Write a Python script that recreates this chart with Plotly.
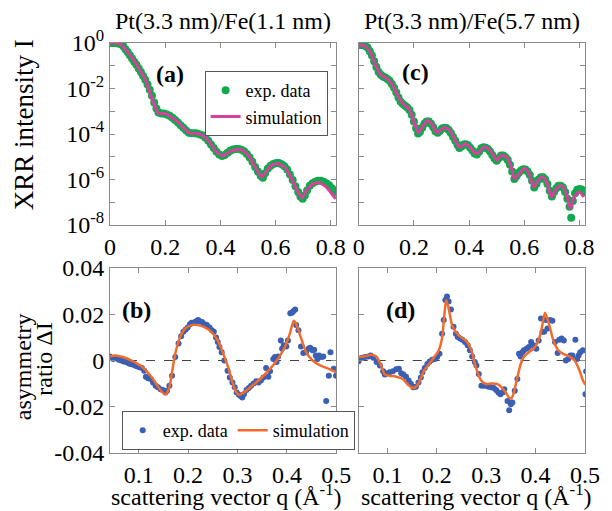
import plotly.graph_objects as go

# ---------------- data ----------------
# (a) Pt(3.3 nm)/Fe(1.1 nm) XRR, log10 intensity
a_sim_q = [0, 0.035, 0.058, 0.082, 0.105, 0.129, 0.146, 0.164, 0.175, 0.199, 0.222, 0.246, 0.269, 0.287,
           0.316, 0.339, 0.363, 0.386, 0.409, 0.433, 0.456, 0.480, 0.503, 0.526, 0.550, 0.561, 0.585, 0.608,
           0.632, 0.655, 0.678, 0.696, 0.713, 0.737, 0.760, 0.784, 0.805, 0.818]
a_sim_log = [0, -0.03, -0.32, -0.69, -1.13, -1.64, -2.23, -2.81, -3.08, -3.10, -3.25, -3.47, -3.76, -3.95,
             -3.98, -4.09, -4.39, -4.78, -4.96, -4.78, -4.68, -4.71, -4.98, -5.45, -5.89, -5.74, -5.38, -5.30,
             -5.45, -5.89, -6.47, -6.80, -6.47, -6.18, -6.15, -6.33, -6.65, -6.85]
a_exp_q = [0.000, 0.010, 0.020, 0.030, 0.040, 0.048, 0.056, 0.064, 0.072, 0.080, 0.088, 0.096, 0.104, 0.112,
           0.120, 0.128, 0.136, 0.144, 0.152, 0.160, 0.168, 0.176, 0.186, 0.196, 0.206, 0.216, 0.226, 0.236,
           0.246, 0.256, 0.266, 0.276, 0.286, 0.296, 0.306, 0.316, 0.326, 0.336, 0.346, 0.356, 0.366, 0.376,
           0.386, 0.396, 0.406, 0.416, 0.426, 0.436, 0.446, 0.456, 0.466, 0.476, 0.486, 0.496, 0.506, 0.516,
           0.526, 0.536, 0.546, 0.554, 0.562, 0.572, 0.582, 0.592, 0.602, 0.612, 0.622, 0.632, 0.642, 0.652,
           0.662, 0.672, 0.682, 0.690, 0.698, 0.706, 0.714, 0.724, 0.734, 0.744, 0.754, 0.764, 0.774, 0.784,
           0.794, 0.804, 0.814, 0.820]
a_exp_log = [0.00, 0.00, -0.01, -0.02, -0.06, -0.14, -0.27, -0.40, -0.54, -0.68, -0.82, -0.96, -1.12, -1.28,
             -1.45, -1.62, -1.82, -2.05, -2.32, -2.62, -2.88, -3.05, -3.10, -3.10, -3.14, -3.20, -3.29, -3.38,
             -3.50, -3.62, -3.73, -3.85, -3.94, -3.97, -3.97, -3.98, -4.02, -4.07, -4.17, -4.30, -4.46, -4.62,
             -4.78, -4.90, -4.97, -4.92, -4.82, -4.74, -4.68, -4.66, -4.66, -4.69, -4.76, -4.88, -5.03, -5.22,
             -5.45, -5.65, -5.84, -5.92, -5.72, -5.52, -5.40, -5.32, -5.28, -5.28, -5.33, -5.42, -5.56, -5.78,
             -6.02, -6.30, -6.55, -6.75, -6.85, -6.70, -6.48, -6.28, -6.16, -6.10, -6.06, -6.06, -6.10, -6.16,
             -6.25, -6.38, -6.50, -6.55]

# (c) Pt(3.3 nm)/Fe(5.7 nm) XRR, log10 intensity
c_sim_q = [0, 0.025, 0.043, 0.060, 0.078, 0.096, 0.113, 0.131, 0.148, 0.166, 0.183, 0.201, 0.216, 0.230,
           0.248, 0.265, 0.283, 0.295, 0.312, 0.330, 0.347, 0.365, 0.377, 0.388, 0.406, 0.424, 0.435, 0.453,
           0.470, 0.488, 0.500, 0.517, 0.535, 0.553, 0.564, 0.582, 0.600, 0.617, 0.634, 0.646, 0.664, 0.681,
           0.699, 0.716, 0.734, 0.752, 0.767, 0.781, 0.799, 0.816]
c_sim_log = [-0.10, -0.14, -0.43, -0.94, -1.37, -1.52, -1.67, -2.03, -2.47, -2.73, -2.91, -3.49, -3.93, -3.71,
             -3.42, -3.56, -3.93, -3.85, -3.71, -3.85, -4.22, -4.58, -4.51, -4.43, -4.62, -4.87, -4.80, -4.58,
             -4.65, -4.94, -5.16, -4.94, -5.01, -5.45, -5.96, -5.74, -5.52, -5.74, -6.33, -6.11, -5.89, -6.11,
             -6.77, -6.40, -6.26, -6.62, -7.28, -6.77, -6.55, -6.77]
c_exp_q = [0.000, 0.008, 0.016, 0.024, 0.032, 0.040, 0.048, 0.056, 0.064, 0.072, 0.080, 0.088, 0.096, 0.104,
           0.112, 0.120, 0.128, 0.136, 0.144, 0.152, 0.160, 0.168, 0.176, 0.184, 0.192, 0.200, 0.208, 0.215,
           0.222, 0.230, 0.238, 0.246, 0.254, 0.262, 0.270, 0.278, 0.286, 0.294, 0.302, 0.310, 0.318, 0.326,
           0.334, 0.342, 0.350, 0.358, 0.365, 0.372, 0.380, 0.388, 0.396, 0.404, 0.412, 0.420, 0.428, 0.436,
           0.444, 0.452, 0.460, 0.468, 0.476, 0.484, 0.492, 0.500, 0.508, 0.516, 0.524, 0.532, 0.540, 0.548,
           0.556, 0.564, 0.572, 0.580, 0.588, 0.596, 0.604, 0.612, 0.620, 0.628, 0.636, 0.644, 0.652, 0.660,
           0.668, 0.676, 0.684, 0.692, 0.700, 0.708, 0.716, 0.724, 0.732, 0.740, 0.748, 0.756, 0.764, 0.770,
           0.776, 0.784, 0.792, 0.800, 0.808, 0.816]
c_exp_log = [-0.08, -0.09, -0.10, -0.13, -0.20, -0.36, -0.55, -0.80, -1.05, -1.27, -1.40, -1.47, -1.52, -1.58,
             -1.66, -1.80, -1.97, -2.18, -2.40, -2.58, -2.68, -2.76, -2.84, -2.95, -3.15, -3.45, -3.75, -3.98,
             -3.90, -3.72, -3.55, -3.45, -3.45, -3.55, -3.70, -3.88, -3.95, -3.87, -3.76, -3.72, -3.74, -3.82,
             -3.96, -4.13, -4.30, -4.48, -4.62, -4.55, -4.46, -4.45, -4.50, -4.60, -4.73, -4.86, -4.90, -4.78,
             -4.63, -4.58, -4.60, -4.66, -4.77, -4.92, -5.08, -5.18, -5.05, -4.95, -4.95, -5.02, -5.14, -5.35,
             -5.65, -5.98, -5.85, -5.70, -5.60, -5.55, -5.56, -5.65, -5.80, -6.05, -6.35, -6.20, -6.00, -5.90,
             -5.90, -6.00, -6.20, -6.50, -6.75, -6.55, -6.38, -6.28, -6.28, -6.35, -6.55, -6.85, -7.20, -7.68,
             -6.95, -6.60, -6.45, -6.42, -6.44, -6.55]

# (b) asymmetry ratio, Fe 1.1 nm
b_sim_q = [0.042, 0.052, 0.068, 0.088, 0.108, 0.124, 0.138, 0.148, 0.154, 0.161, 0.167, 0.174, 0.184, 0.194,
           0.207, 0.220, 0.234, 0.247, 0.260, 0.270, 0.280, 0.290, 0.296, 0.303, 0.313, 0.326, 0.346, 0.366,
           0.382, 0.396, 0.406, 0.414, 0.419, 0.429, 0.439, 0.452, 0.468, 0.485, 0.500]
b_sim_v = [0.0017, 0.0022, 0.0015, -0.0003, -0.0029, -0.0066, -0.0109, -0.0138, -0.0146, -0.0124, -0.0058,
           0.0029, 0.0102, 0.0138, 0.0153, 0.0153, 0.0143, 0.0124, 0.0087, 0.0036, -0.0022, -0.0095, -0.0131,
           -0.0148, -0.0138, -0.0116, -0.0080, -0.0036, 0.0007, 0.0058, 0.0116, 0.0172, 0.0157, 0.0095, 0.0036,
           0.0, -0.0022, -0.0036, -0.0051]
b_exp_q = [0.0418, 0.0484, 0.0550, 0.0597, 0.0649, 0.0696, 0.0749, 0.0795, 0.0835, 0.0881, 0.0927, 0.0967,
           0.1013, 0.1066, 0.1112, 0.1146, 0.1192, 0.1245, 0.1291, 0.1344, 0.1390, 0.1443, 0.1489, 0.1542,
           0.1575, 0.1622, 0.1675, 0.1741, 0.1807, 0.1860, 0.1906, 0.1952, 0.1992, 0.2038, 0.2071, 0.2138,
           0.2184, 0.2204, 0.2237, 0.2283, 0.2336, 0.2382, 0.2435, 0.2481, 0.2521, 0.2567, 0.2601, 0.2634,
           0.2680, 0.2733, 0.2799, 0.2845, 0.2898, 0.2944, 0.2984, 0.3030, 0.3063, 0.3097, 0.3130, 0.3183,
           0.3229, 0.3275, 0.3328, 0.3381, 0.3427, 0.3474, 0.3526, 0.3579, 0.3626, 0.3659, 0.3725, 0.3758,
           0.3791, 0.3824, 0.3877, 0.3903, 0.3937, 0.3989, 0.4022, 0.4069, 0.4102, 0.4135, 0.4168, 0.4188,
           0.4234, 0.4287, 0.4333, 0.4386, 0.4439, 0.4472, 0.4519, 0.4552, 0.4585, 0.4618, 0.4651, 0.4704,
           0.4737, 0.4796, 0.4849, 0.4882, 0.4948, 0.4995]
b_exp_v = [0.0017, 0.0007, 0.0012, 0.0003, 0.0, -0.0004, -0.0007, -0.0012, -0.0015, -0.0017, -0.0022, -0.0025,
           -0.0029, -0.0032, -0.0044, -0.0070, -0.0077, -0.0080, -0.0095, -0.0109, -0.0116, -0.0124, -0.0128,
           -0.0138, -0.0131, -0.0109, -0.0066, 0.0015, 0.0073, 0.0105, 0.0124, 0.0134, 0.0143, 0.0157, 0.0163,
           0.0167, 0.0172, 0.0175, 0.0170, 0.0167, 0.0157, 0.0153, 0.0143, 0.0131, 0.0124, 0.0099, 0.0080,
           0.0058, 0.0036, 0.0, -0.0044, -0.0073, -0.0095, -0.0116, -0.0138, -0.0148, -0.0153, -0.0160, -0.0146,
           -0.0128, -0.0119, -0.0109, -0.0099, -0.0090, -0.0095, -0.0087, -0.0073, -0.0032, -0.0070, -0.0047,
           0.0007, 0.0015, -0.0007, 0.0017, 0.0087, 0.0051, 0.0066, 0.0061, 0.0087, 0.0204, 0.0207, 0.0214,
           0.0221, 0.0153, 0.0131, 0.0061, 0.0032, 0.0036, 0.0051, 0.0055, 0.0044, 0.0047, 0.0022, 0.0007,
           0.0022, 0.0015, 0.0017, -0.0175, -0.0066, 0.0036, -0.0036, -0.0066]

# (d) asymmetry ratio, Fe 5.7 nm
d_sim_q = [0.042, 0.052, 0.068, 0.078, 0.086, 0.095, 0.105, 0.118, 0.131, 0.144, 0.154, 0.164, 0.174, 0.184,
           0.194, 0.204, 0.211, 0.215, 0.219, 0.224, 0.231, 0.241, 0.250, 0.260, 0.270, 0.280, 0.290, 0.300,
           0.310, 0.323, 0.337, 0.346, 0.351, 0.356, 0.363, 0.370, 0.376, 0.386, 0.396, 0.406, 0.413, 0.419,
           0.426, 0.436, 0.446, 0.456, 0.469, 0.479, 0.489, 0.496, 0.501]
d_sim_v = [0.0015, 0.0017, 0.0025, 0.0017, -0.0015, -0.0061, -0.0066, -0.0070, -0.0080, -0.0109, -0.0119,
           -0.0095, -0.0044, -0.0015, 0.0012, 0.0044, 0.0102, 0.0189, 0.0262, 0.0226, 0.0153, 0.0116, 0.0099,
           0.0084, 0.0044, -0.0036, -0.0087, -0.0102, -0.0099, -0.0102, -0.0131, -0.0160, -0.0164, -0.0138,
           -0.0073, -0.0015, 0.0015, 0.0036, 0.0051, 0.0087, 0.0146, 0.0207, 0.0167, 0.0087, 0.0044, 0.0029,
           0.0017, 0.0, -0.0044, -0.0087, -0.0105]
d_exp_q = [0.0417, 0.0484, 0.0550, 0.0616, 0.0663, 0.0716, 0.0782, 0.0849, 0.0915, 0.0948, 0.1001, 0.1047,
           0.1113, 0.1180, 0.1233, 0.1279, 0.1325, 0.1378, 0.1431, 0.1478, 0.1524, 0.1577, 0.1630, 0.1677,
           0.1710, 0.1756, 0.1809, 0.1856, 0.1909, 0.1962, 0.2008, 0.2054, 0.2107, 0.2140, 0.2174, 0.2207,
           0.2240, 0.2286, 0.2339, 0.2386, 0.2425, 0.2472, 0.2518, 0.2571, 0.2624, 0.2671, 0.2717, 0.2770,
           0.2803, 0.2850, 0.2903, 0.2956, 0.3003, 0.3049, 0.3101, 0.3154, 0.3201, 0.3247, 0.3287, 0.3333,
           0.3366, 0.3432, 0.3465, 0.3498, 0.3531, 0.3578, 0.3631, 0.3664, 0.3697, 0.3730, 0.3763, 0.3816,
           0.3863, 0.3909, 0.3962, 0.4015, 0.4062, 0.4108, 0.4141, 0.4174, 0.4207, 0.4241, 0.4294, 0.4340,
           0.4393, 0.4446, 0.4479, 0.4526, 0.4572, 0.4612, 0.4659, 0.4705, 0.4745, 0.4805, 0.4838, 0.4871,
           0.4904, 0.4957, 0.5010, 0.5023]
d_exp_v = [-0.0003, 0.0012, 0.0015, 0.0017, 0.0022, 0.0012, -0.0007, -0.0022, -0.0047, -0.0061, -0.0055,
           -0.0051, -0.0047, -0.0038, -0.0036, -0.0055, -0.0061, -0.0070, -0.0087, -0.0102, -0.0116, -0.0114,
           -0.0095, -0.0073, -0.0051, -0.0032, -0.0015, -0.0004, 0.0003, 0.0007, 0.0015, 0.0029, 0.0116, 0.0175,
           0.0262, 0.0277, 0.0255, 0.0221, 0.0146, 0.0116, 0.0102, 0.0095, 0.0090, 0.0080, 0.0066, 0.0044,
           0.0017, -0.0007, -0.0022, -0.0058, -0.0109, -0.0109, -0.0109, -0.0114, -0.0116, -0.0119, -0.0128,
           -0.0138, -0.0146, -0.0138, -0.0124, -0.0175, -0.0215, -0.0189, -0.0182, -0.0131, -0.0080, 0.0029,
           0.0017, 0.0036, 0.0044, 0.0051, 0.0058, 0.0080, 0.0066, 0.0051, 0.0087, 0.0182, 0.0124, 0.0124,
           0.0175, 0.0138, 0.0175, 0.0172, 0.0080, 0.0032, 0.0090, 0.0095, 0.0087, 0.0, 0.0007, 0.0022, 0.0022,
           0.0090, 0.0007, 0.0022, 0.0036, 0.0044, -0.0146, -0.0047]

titles = ["Pt(3.3 nm)/Fe(1.1 nm)", "Pt(3.3 nm)/Fe(5.7 nm)"]
panel_labels = ["(a)", "(c)", "(b)", "(d)"]
top_xticks = [0, 0.2, 0.4, 0.6, 0.8]
top_xticktext = ["0", "0.2", "0.4", "0.6", "0.8"]
top_yticks = [1e0, 1e-2, 1e-4, 1e-6, 1e-8]
top_yticktext = ["10<sup>0</sup>", "10<sup>-2</sup>", "10<sup>-4</sup>", "10<sup>-6</sup>", "10<sup>-8</sup>"]
top_yminor = [1e-1, 1e-3, 1e-5, 1e-7]
bot_xticks = [0.1, 0.2, 0.3, 0.4, 0.5]
bot_xticktext = ["0.1", "0.2", "0.3", "0.4", "0.5"]
bot_yticks = [0.04, 0.02, 0, -0.02, -0.04]
bot_yticktext = ["0.04", "0.02", "0", "-0.02", "-0.04"]

# ---------------- style ----------------
FONT = "Liberation Serif"
GREEN = "#12a84e"
MAGENTA = "#d9409e"
BLUE = "#3a5fb3"
ORANGE = "#f26b2a"
FRAME = "#8a8a8a"

fig = go.Figure()

def pow10(vals):
    return [10 ** v for v in vals]

fig.add_trace(go.Scatter(x=a_exp_q, y=pow10(a_exp_log), mode="markers", name="exp. data",
                         marker=dict(color=GREEN, size=8), xaxis="x", yaxis="y", legend="legend"))
fig.add_trace(go.Scatter(x=a_sim_q, y=pow10(a_sim_log), mode="lines", name="simulation",
                         line=dict(color=MAGENTA, width=3, shape="spline", smoothing=0.8),
                         xaxis="x", yaxis="y", legend="legend"))
fig.add_trace(go.Scatter(x=c_exp_q, y=pow10(c_exp_log), mode="markers", showlegend=False,
                         marker=dict(color=GREEN, size=8), xaxis="x2", yaxis="y2"))
fig.add_trace(go.Scatter(x=c_sim_q, y=pow10(c_sim_log), mode="lines", showlegend=False,
                         line=dict(color=MAGENTA, width=3, shape="spline", smoothing=0.8),
                         xaxis="x2", yaxis="y2"))
fig.add_trace(go.Scatter(x=b_exp_q, y=b_exp_v, mode="markers", name="exp. data",
                         marker=dict(color=BLUE, size=6), xaxis="x3", yaxis="y3", legend="legend2"))
fig.add_trace(go.Scatter(x=b_sim_q, y=b_sim_v, mode="lines", name="simulation",
                         line=dict(color=ORANGE, width=2.5, shape="spline", smoothing=0.7),
                         xaxis="x3", yaxis="y3", legend="legend2"))
fig.add_trace(go.Scatter(x=d_exp_q, y=d_exp_v, mode="markers", showlegend=False,
                         marker=dict(color=BLUE, size=6), xaxis="x4", yaxis="y4"))
fig.add_trace(go.Scatter(x=d_sim_q, y=d_sim_v, mode="lines", showlegend=False,
                         line=dict(color=ORANGE, width=2.5, shape="spline", smoothing=0.7),
                         xaxis="x4", yaxis="y4"))

# the page body adds an 8px offset; lay the figure out in reference pixels
OFF = 8
W, H = 612 - OFF, 511 - OFF
ML, MR, MT, MB = 110 - OFF, 15, 43 - OFF, 58
PW, PH = W - ML - MR, H - MT - MB

def px(xr):
    return (xr - 110) / PW

def py(yr):
    return (453 - yr) / PH

common = dict(showline=True, linecolor=FRAME, linewidth=1, mirror="allticks", ticks="inside",
              ticklen=5, tickcolor=FRAME, showgrid=False, zeroline=False,
              tickfont=dict(family=FONT, size=24, color="black"))
minor_log = dict(tickvals=top_yminor, ticks="inside", ticklen=5, tickcolor=FRAME, showgrid=False)

dL = [0, px(342)]
dR = [px(365), 1]
dT = [py(225), 1]
dB = [0, py(268)]

fig.update_layout(
    width=W, height=H, margin=dict(l=ML, r=MR, t=MT, b=MB),
    paper_bgcolor="white", plot_bgcolor="white",
    font=dict(family=FONT, color="black"),
    xaxis=dict(domain=dL, anchor="y", range=[0, 0.82], tickvals=top_xticks, ticktext=top_xticktext, **common),
    yaxis=dict(domain=dT, anchor="x", type="log", range=[-8, 0], tickvals=top_yticks,
               ticktext=top_yticktext, minor=minor_log, **common),
    xaxis2=dict(domain=dR, anchor="y2", range=[0, 0.82], tickvals=top_xticks, ticktext=top_xticktext, **common),
    yaxis2=dict(domain=dT, anchor="x2", type="log", range=[-8, 0], tickvals=top_yticks,
                showticklabels=False, minor=minor_log, **common),
    xaxis3=dict(domain=dL, anchor="y3", range=[0.042, 0.5], tickvals=bot_xticks, ticktext=bot_xticktext, **common),
    yaxis3=dict(domain=dB, anchor="x3", range=[-0.04, 0.04], tickvals=bot_yticks,
                ticktext=bot_yticktext, **common),
    xaxis4=dict(domain=dR, anchor="y4", range=[0.042, 0.5], tickvals=bot_xticks, ticktext=bot_xticktext, **common),
    yaxis4=dict(domain=dB, anchor="x4", range=[-0.04, 0.04], tickvals=bot_yticks,
                showticklabels=False, **common),
    legend=dict(x=px(207), y=py(71), xanchor="left", yanchor="top", bordercolor="#555555", borderwidth=1,
                bgcolor="white", font=dict(family=FONT, size=18), tracegroupgap=0, itemwidth=30),
    legend2=dict(x=px(122), y=py(411), xanchor="left", yanchor="top", orientation="h",
                 bordercolor="#555555", borderwidth=1, bgcolor="white",
                 font=dict(family=FONT, size=18), itemwidth=30),
)

for xr, yr in (("x3 domain", "y3"), ("x4 domain", "y4")):
    fig.add_shape(type="line", xref=xr, x0=0, x1=1, yref=yr, y0=0, y1=0,
                  line=dict(color="#444444", width=1, dash="dash"), layer="below")

ann = []
for t, xc in zip(titles, [226, 481]):
    ann.append(dict(text=t, x=px(xc), y=py(21), xref="paper", yref="paper", showarrow=False,
                    xanchor="center", yanchor="middle", font=dict(family=FONT, size=24)))
for lbl, (xc, yc) in zip(panel_labels, [(172, 74), (423, 72), (137, 310), (408, 310)]):
    ann.append(dict(text="<b>" + lbl + "</b>", x=px(xc), y=py(yc), xref="paper", yref="paper",
                    showarrow=False, xanchor="center", yanchor="middle", font=dict(family=FONT, size=24)))
for xc in (229, 486):
    ann.append(dict(text="scattering vector q (Å<sup>-1</sup>)", x=px(xc), y=py(495), xref="paper",
                    yref="paper", showarrow=False, xanchor="center", yanchor="middle",
                    font=dict(family=FONT, size=24)))
ann.append(dict(text="XRR intensity I", x=px(22), y=py(125), xref="paper", yref="paper", showarrow=False,
                textangle=-90, xanchor="center", yanchor="middle", font=dict(family=FONT, size=27)))
ann.append(dict(text="asymmetry", x=px(21), y=py(367), xref="paper", yref="paper",
                showarrow=False, textangle=-90, xanchor="center", yanchor="middle",
                font=dict(family=FONT, size=24)))
ann.append(dict(text="ratio ΔI", x=px(42), y=py(359), xref="paper", yref="paper",
                showarrow=False, textangle=-90, xanchor="center", yanchor="middle",
                font=dict(family=FONT, size=24)))
fig.update_layout(annotations=ann)

fig.write_html("out.html")
